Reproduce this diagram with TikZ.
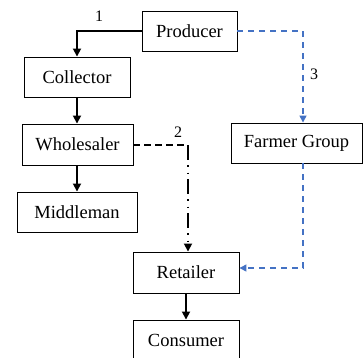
\documentclass[tikz,border=0pt]{standalone}
\usepackage{fontspec}
\setmainfont{Liberation Serif}
\usetikzlibrary{arrows.meta}
\definecolor{linkblue}{HTML}{4472C4}
\begin{document}
\begin{tikzpicture}[x=1pt,y=1pt,
  box/.style={draw,line width=0.9pt,minimum height=40pt,inner sep=0pt,font=\fontsize{18.5}{20}\selectfont},
  flow/.style={line width=1.7pt,-{Triangle[length=8pt,width=8pt]}},
  bflow/.style={linkblue,line width=1.4pt,dash pattern=on 6pt off 5pt},
  lbl/.style={font=\fontsize{16}{18}\selectfont,inner sep=0pt}]
\clip (0,0) rectangle (364,-357);
\node[box,minimum width=95pt] (prod) at (189.5,-31) {Producer};
\node[box,minimum width=106pt] (coll) at (77,-77) {Collector};
\node[box,minimum width=111pt,minimum height=41pt] (whole) at (77.5,-144.5) {Wholesaler};
\node[box,minimum width=120pt] (mid) at (77,-212) {Middleman};
\node[box,minimum width=131pt] (farm) at (296.5,-143) {Farmer Group};
\node[box,minimum width=106pt,minimum height=41pt] (ret) at (186,-272.5) {Retailer};
\node[box,minimum width=106pt] (cons) at (186,-340) {Consumer};
\coordinate (c2) at (188,-145);
\coordinate (c3) at (303,-31);
\coordinate (c4) at (303,-268);
% flow 1
\draw[flow] (prod.west) -| (coll.north);
\draw[flow] (coll.south) -- (whole.north -| coll.south);
\draw[flow] (whole.south -| coll.south) -- (mid.north -| coll.south);
\draw[flow] (ret.south) -- (cons.north);
% flow 2
\draw[line width=1.7pt,dash pattern=on 7pt off 4pt] (whole.east |- c2) -- (c2);
\draw[line width=1.7pt,dash pattern=on 15pt off 5pt on 1.5pt off 6pt on 1.5pt off 5pt,-{Triangle[length=8pt,width=8pt]}] (c2) -- (ret.north -| c2);
% flow 3
\draw[bflow] (prod.east |- c3) -- (c3);
\draw[bflow,-{Triangle[length=7pt,width=7pt]}] (c3) -- (farm.north -| c3);
\draw[bflow,-{Triangle[length=7pt,width=7pt]}] (farm.south -| c3) -- (c4) -- (ret.east |- c4);
% labels
\node[lbl] (l1) at (99,-16) {1};
\node[lbl] (l2) at (178,-132) {2};
\node[lbl] (l3) at (314,-74) {3};
\end{tikzpicture}
\end{document}
